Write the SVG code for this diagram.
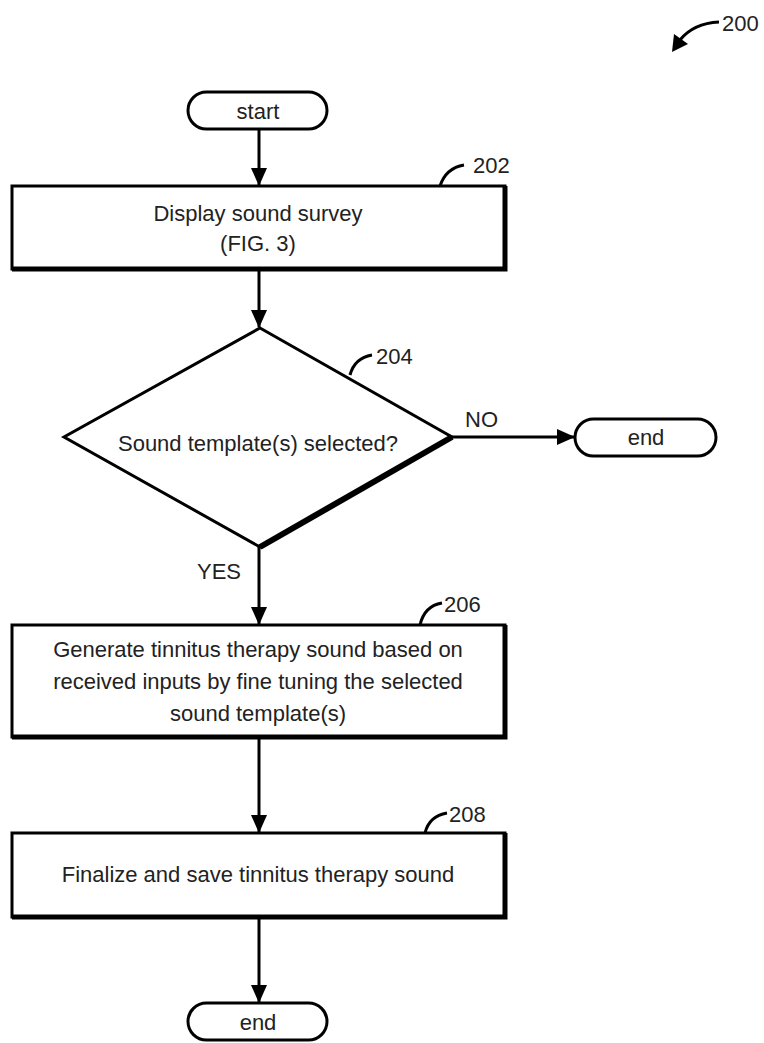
<svg xmlns="http://www.w3.org/2000/svg" width="764" height="1043" viewBox="0 0 764 1043">
<defs>
<style>
.t{font-family:"Liberation Sans",Arial,sans-serif;font-size:22px;fill:#222;text-anchor:middle}
.l{font-family:"Liberation Sans",Arial,sans-serif;font-size:22px;fill:#222}
.s{fill:#fff;stroke:#000;stroke-width:3}
.c{fill:none;stroke:#000;stroke-width:3}
.ld{fill:none;stroke:#000;stroke-width:3}
.sh{fill:none;stroke:#000;stroke-width:5}
</style>
<marker id="a" markerWidth="18" markerHeight="18" refX="17" refY="9" orient="auto" markerUnits="userSpaceOnUse" viewBox="0 0 18 18">
<path d="M0,1 L18,9 L0,17 Z" fill="#000"/>
</marker>
</defs>
<rect width="764" height="1043" fill="#fff"/>

<g id="ref200">
<path class="ld" d="M719,22 C700,23 688,30 680,40" />
<path d="M672,52 L674,34 L688,44 Z" fill="#000"/>
<text class="l" x="722" y="31">200</text>
</g>

<g id="connectors">
<line class="c" x1="259" y1="130" x2="259" y2="185" marker-end="url(#a)"/>
<line class="c" x1="259" y1="270" x2="259" y2="327" marker-end="url(#a)"/>
<line class="c" x1="452" y1="437" x2="574" y2="437" marker-end="url(#a)"/>
<line class="c" x1="259" y1="547" x2="259" y2="624" marker-end="url(#a)"/>
<line class="c" x1="259" y1="738" x2="259" y2="832" marker-end="url(#a)"/>
<line class="c" x1="259" y1="918" x2="259" y2="1002" marker-end="url(#a)"/>
<text class="l" x="465" y="427">NO</text>
<text class="l" x="197" y="579">YES</text>
</g>

<g id="start">
<rect class="s" x="188" y="92" width="139" height="37" rx="18.5"/>
<text class="t" x="258" y="119">start</text>
</g>

<g id="n202">
<rect class="s" x="12" y="186" width="493" height="83"/>
<path class="sh" d="M505,186 V269 H12"/>
<text class="t" x="258" y="221">Display sound survey</text>
<text class="t" x="258" y="251">(FIG. 3)</text>
<path class="ld" d="M440,186 C444,174 452,167 464,165"/>
<text class="l" x="473" y="173">202</text>
</g>

<g id="n204">
<polygon class="s" points="260,328 452,437 260,547 64,437"/>
<line x1="452" y1="437" x2="260" y2="547" stroke="#000" stroke-width="6"/>
<text class="t" x="258" y="451">Sound template(s) selected?</text>
<path class="ld" d="M350,375 C353,364 360,357 372,355"/>
<text class="l" x="376" y="364">204</text>
</g>

<g id="end1">
<rect class="s" x="575" y="419" width="141" height="37" rx="18.5"/>
<text class="t" x="646" y="445">end</text>
</g>

<g id="n206">
<rect class="s" x="12" y="625" width="493" height="112"/>
<path class="sh" d="M505,625 V737 H12"/>
<text class="t" x="258" y="657">Generate tinnitus therapy sound based on</text>
<text class="t" x="258" y="689">received inputs by fine tuning the selected</text>
<text class="t" x="258" y="721">sound template(s)</text>
<path class="ld" d="M420,625 C423,612 430,605 442,603"/>
<text class="l" x="444" y="612">206</text>
</g>

<g id="n208">
<rect class="s" x="12" y="833" width="493" height="84"/>
<path class="sh" d="M505,833 V917 H12"/>
<text class="t" x="258" y="882">Finalize and save tinnitus therapy sound</text>
<path class="ld" d="M425,833 C428,821 435,815 447,813"/>
<text class="l" x="449" y="822">208</text>
</g>

<g id="end2">
<rect class="s" x="188" y="1003" width="139" height="37" rx="18.5"/>
<text class="t" x="258" y="1030">end</text>
</g>
</svg>
